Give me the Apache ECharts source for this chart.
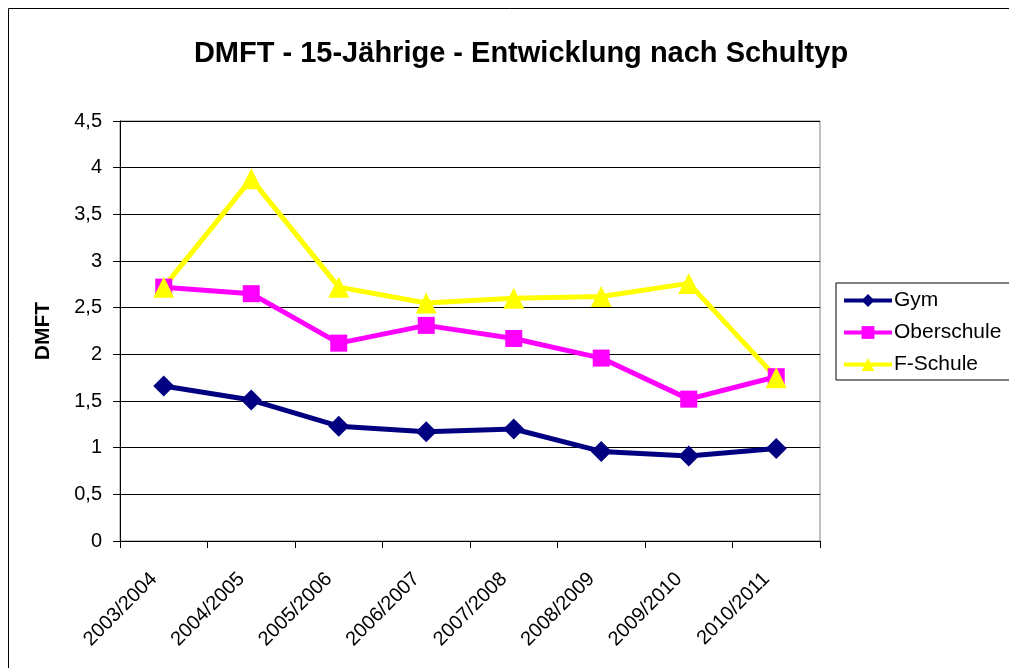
<!DOCTYPE html>
<html>
<head>
<meta charset="utf-8">
<script src="https://cdn.jsdelivr.net/npm/echarts@6/dist/echarts.min.js"></script>
<style>
  html, body { margin: 0; padding: 0; background: #fff; }
  #chart { width: 1009px; height: 668px; }
</style>
</head>
<body>
<div id="chart"></div>
<script>
var schuljahre = ['2003/2004', '2004/2005', '2005/2006', '2006/2007', '2007/2008', '2008/2009', '2009/2010', '2010/2011'];
var gym = [1.66, 1.51, 1.23, 1.17, 1.2, 0.96, 0.91, 0.99];
var oberschule = [2.72, 2.65, 2.12, 2.31, 2.17, 1.96, 1.52, 1.76];
var fSchule = [2.72, 3.88, 2.72, 2.55, 2.6, 2.62, 2.76, 1.75];
var yTicks = [0, 0.5, 1, 1.5, 2, 2.5, 3, 3.5, 4, 4.5];

var myChart = echarts.init(document.getElementById('chart'));
var fontFam = 'Liberation Sans, Arial, sans-serif';

var option = {
    animation: false,
    backgroundColor: '#fff',
    title: {
        text: 'DMFT - 15-Jährige - Entwicklung nach Schultyp',
        left: 516,
        textAlign: 'center',
        top: 34,
        textStyle: { fontFamily: fontFam, fontSize: 29, fontWeight: 'bold', color: '#000' }
    },
    graphic: [{
        type: 'rect',
        shape: { x: 8.5, y: 8.5, width: 1100, height: 800 },
        style: { fill: null, stroke: '#000', lineWidth: 1 },
        z: -1
    }],
    legend: {
        orient: 'vertical',
        left: 836,
        top: 283,
        padding: [7, 40, 5, 6],
        itemGap: 11,
        itemWidth: 48,
        itemHeight: 16,
        borderColor: '#000',
        borderWidth: 1,
        backgroundColor: '#fff',
        lineStyle: { width: 4 },
        textStyle: { fontFamily: fontFam, fontSize: 21, color: '#000', padding: [0, 0, 0, -3] },
        data: ['Gym', 'Oberschule', 'F-Schule']
    },
    grid: {
        left: 120,
        right: 189,
        top: 121,
        bottom: 127,
        show: true,
        borderColor: '#808080',
        borderWidth: 1
    },
    xAxis: {
        type: 'category',
        data: schuljahre,
        boundaryGap: true,
        axisLine: { lineStyle: { color: '#000', width: 1 } },
        axisTick: { show: true, alignWithLabel: false, length: 7, lineStyle: { color: '#000' } },
        axisLabel: {
            rotate: 45,
            margin: 25,
            padding: [0, 14, 0, 0],
            fontFamily: fontFam,
            fontSize: 20,
            color: '#000',
            interval: 0
        }
    },
    yAxis: {
        type: 'value',
        min: yTicks[0],
        max: yTicks[yTicks.length - 1],
        interval: 0.5,
        name: 'DMFT',
        nameLocation: 'middle',
        nameRotate: 90,
        nameGap: 66,
        nameMoveOverlap: false,
        nameTextStyle: { fontFamily: fontFam, fontSize: 21, fontWeight: 'bold', color: '#000' },
        axisLine: { show: true, lineStyle: { color: '#000', width: 1 } },
        axisTick: { show: true, length: 7, lineStyle: { color: '#000' } },
        axisLabel: {
            margin: 18,
            fontFamily: fontFam,
            fontSize: 20,
            color: '#000',
            formatter: function (v) { return String(v).replace('.', ','); }
        },
        splitLine: { lineStyle: { color: '#000', width: 1 } }
    },
    series: [
        {
            name: 'Gym',
            type: 'line',
            data: gym,
            symbol: 'diamond',
            symbolSize: 21,
            lineStyle: { color: '#000080', width: 5 },
            itemStyle: { color: '#000080' }
        },
        {
            name: 'Oberschule',
            type: 'line',
            data: oberschule,
            symbol: 'rect',
            symbolSize: 17,
            lineStyle: { color: '#ff00ff', width: 5 },
            itemStyle: { color: '#ff00ff' }
        },
        {
            name: 'F-Schule',
            type: 'line',
            data: fSchule,
            symbol: 'triangle',
            symbolSize: 21,
            lineStyle: { color: '#ffff00', width: 5 },
            itemStyle: { color: '#ffff00' }
        }
    ]
};
myChart.setOption(option);
window.onresize = myChart.resize;
</script>
</body>
</html>
